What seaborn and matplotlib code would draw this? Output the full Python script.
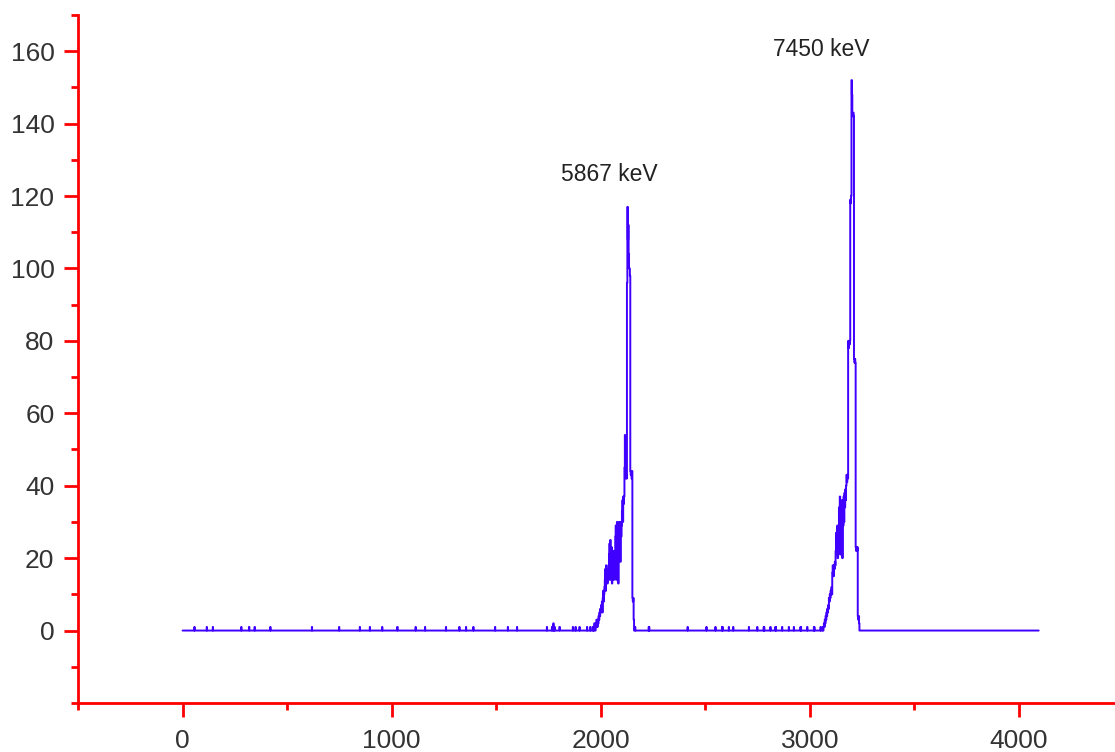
import numpy as np
import pandas as pd
import seaborn as sns
import matplotlib.pyplot as plt
from matplotlib.ticker import MultipleLocator

# single-count hits in the flat part of the spectrum (channel numbers)
hit_channels = [57, 116, 145, 281, 318, 319, 345, 420, 619, 749, 848, 896, 955,
                1027, 1028, 1115, 1160, 1260, 1324, 1356, 1391, 1495, 1556, 1600,
                1743, 1767, 1774, 1780, 1803, 1804, 1867, 1880, 1899, 1935, 1950,
                2165, 2230, 2232, 2416, 2506, 2549, 2581, 2583, 2613, 2634, 2709,
                2749, 2780, 2782, 2812, 2836, 2838, 2868, 2900, 2924, 2956, 2958,
                2988, 3020, 3022, 3052]
hit_counts = [1] * len(hit_channels)
hit_counts[hit_channels.index(1774)] = 2

# 5867 keV peak, counts in 2-channel bins starting at channel 1960
peak1_start = 1960
peak1_counts = [0, 1, 0, 1, 0, 2, 1, 0, 2, 1, 3, 2, 1, 3, 2,
                4, 3, 5, 4, 6, 5, 7, 6, 8, 5,
                9, 11, 8, 10, 12,
                14, 17, 11, 18, 15, 16, 13, 17, 15, 18,
                21, 24, 14, 25, 22, 18, 23, 13,
                21, 19, 22, 14, 20, 18, 22,
                26, 29, 14, 28, 30, 25, 29, 13, 27, 30,
                24, 28, 19, 30, 26, 29,
                33, 36, 30, 37, 35, 37,
                45, 54, 50, 42, 43, 42,
                96, 117, 108, 112, 104, 100, 100, 98,
                44, 43, 44, 42, 44, 9, 8, 9, 3]

# 7450 keV peak, counts in 2-channel bins starting at channel 3060
peak2_start = 3060
peak2_counts = [0, 1, 0, 1, 2, 1, 3, 2, 4, 3, 5, 4, 6, 5, 7, 6,
                9, 8, 10, 9, 11, 10, 12, 10,
                16, 18, 17, 15, 18, 17, 19, 18,
                22, 27, 21, 24, 29, 20, 26, 23,
                34, 30, 37, 21, 31, 35, 27, 36, 20, 33, 29, 37,
                30, 38, 34, 39, 36, 40, 43, 41, 43, 42,
                80, 78, 80, 79, 80,
                119, 118, 120,
                152, 148,
                143, 142, 143, 142,
                75, 74, 75, 74,
                23, 22, 23, 22, 23,
                4, 3, 4, 2]

peak_labels = ["5867 keV", "7450 keV"]
label_x = [2043, 3055]
label_y = [126, 160.5]

n_channels = 4096
counts = np.zeros(n_channels)
counts[hit_channels] = hit_counts
p1 = np.repeat(peak1_counts, 2)
counts[peak1_start:peak1_start + len(p1)] = p1
p2 = np.repeat(peak2_counts, 2)
counts[peak2_start:peak2_start + len(p2)] = p2

df = pd.DataFrame({"channel": np.arange(n_channels), "counts": counts})

sns.set_style("white")
plt.rcParams['font.family'] = ['Liberation Sans', 'DejaVu Sans']

fig = plt.figure(figsize=(11.15, 7.52), dpi=100)
ax = fig.add_axes([0.0700, 0.0652, 0.9300, 0.9149])

sns.lineplot(data=df, x="channel", y="counts", ax=ax, color="#3f00ff",
             linewidth=1.4, estimator=None, drawstyle="steps-mid")

for t, x, y in zip(peak_labels, label_x, label_y):
    ax.text(x, y, t, ha="center", va="center", fontsize=16.5, color="#222222")

ax.set_xlim(-500, 4460)
ax.set_ylim(-20, 170)
ax.xaxis.set_major_locator(MultipleLocator(1000))
ax.xaxis.set_minor_locator(MultipleLocator(500))
ax.yaxis.set_major_locator(MultipleLocator(20))
ax.yaxis.set_minor_locator(MultipleLocator(10))
ax.set_yticks([0, 20, 40, 60, 80, 100, 120, 140, 160])
ax.set_xticks([0, 1000, 2000, 3000, 4000])

for s in ["top", "right"]:
    ax.spines[s].set_visible(False)
for s in ["left", "bottom"]:
    ax.spines[s].set_color("red")
    ax.spines[s].set_linewidth(2)

ax.tick_params(which="major", direction="out", length=10, width=2, color="red",
               labelsize=19, labelcolor="#333333", pad=7)
ax.tick_params(axis="x", which="major", pad=9)
ax.tick_params(which="minor", direction="out", length=5, width=2, color="red")
ax.tick_params(axis="x", which="both", bottom=True)
ax.tick_params(axis="y", which="both", left=True)
ax.set_xlabel("")
ax.set_ylabel("")

fig.savefig("out.png", dpi=100)
